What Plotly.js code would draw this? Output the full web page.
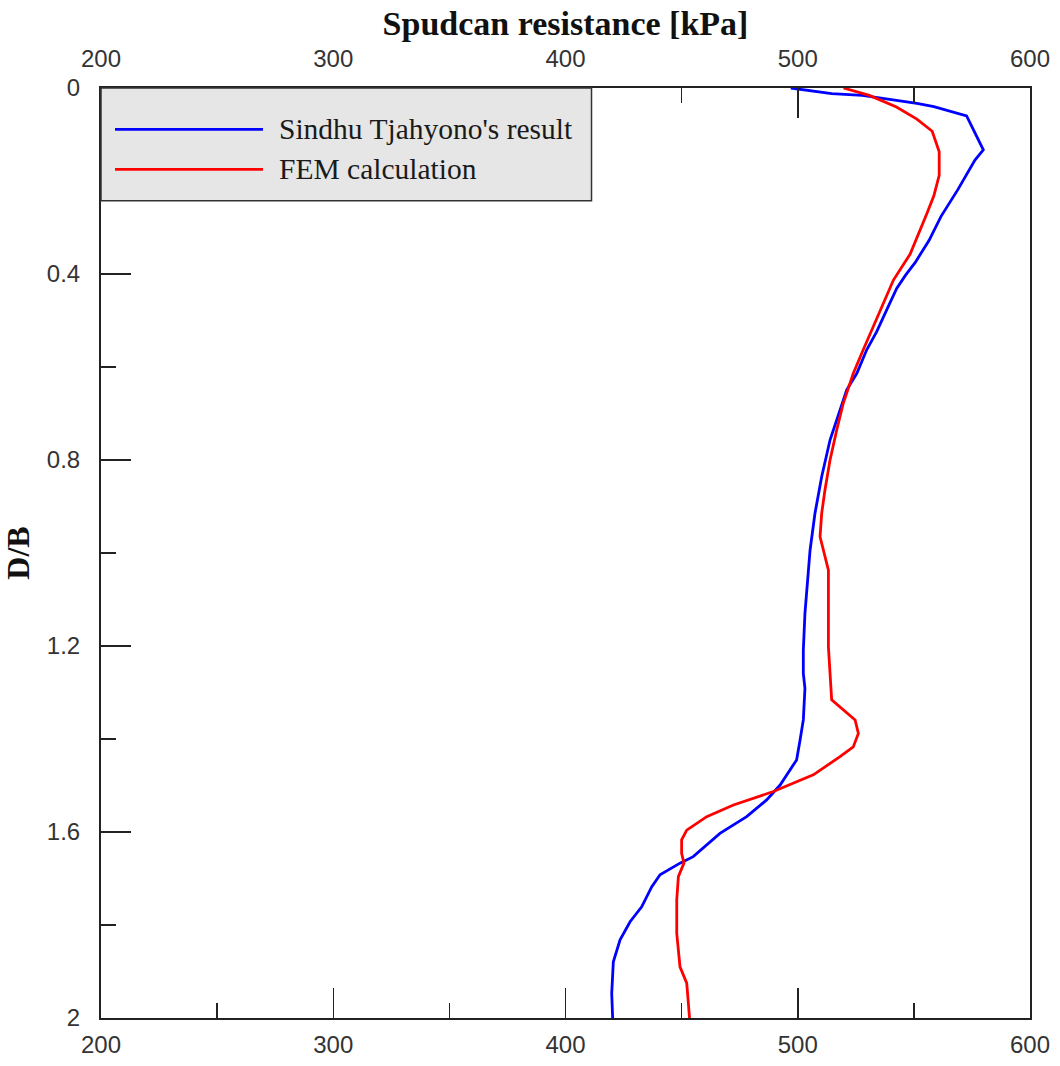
<!DOCTYPE html>
<html>
<head>
<meta charset="utf-8">
<script src="https://cdn.plot.ly/plotly-3.0.1.min.js"></script>
<style>
  html, body { margin: 0; padding: 0; background: #ffffff; }
  #chart { width: 1060px; height: 1066px; }
</style>
</head>
<body>
<div id="chart"></div>
<script>
// ---- Data ----
const seriesNames = ["Sindhu Tjahyono's result", "FEM calculation"];

// Sindhu Tjahyono's result: spudcan resistance [kPa] vs D/B
const tjahyonoResistance = [497.0, 514.6, 527.8, 551.3, 558.6, 572.7, 579.9, 576.3, 569.0, 561.7,
  556.5, 550.6, 546.5, 542.6, 538.3, 534.0, 529.7, 525.4, 521.1, 518.2, 513.9, 510.3, 507.4, 505.3,
  504.6, 503.1, 502.4, 502.4, 503.1, 502.4, 501.0, 499.5, 492.4, 486.6, 478.0, 466.5, 455.0, 449.3,
  440.7, 437.1, 432.8, 427.8, 423.5, 420.6, 419.9, 420.3];
const tjahyonoDepth = [0.000, 0.012, 0.016, 0.033, 0.040, 0.060, 0.133, 0.155, 0.218, 0.276,
  0.328, 0.375, 0.402, 0.431, 0.477, 0.524, 0.563, 0.614, 0.649, 0.692, 0.757, 0.836, 0.915, 0.994,
  1.044, 1.130, 1.209, 1.259, 1.291, 1.359, 1.402, 1.445, 1.499, 1.531, 1.567, 1.603, 1.653, 1.667,
  1.692, 1.718, 1.761, 1.793, 1.832, 1.879, 1.947, 2.000];

// FEM calculation: spudcan resistance [kPa] vs D/B
const femResistance = [519.7, 530.8, 542.5, 551.3, 557.9, 560.9, 560.9, 558.6, 555.7, 552.1,
  548.4, 541.2, 536.8, 532.5, 528.2, 523.9, 519.6, 516.8, 513.9, 511.7, 510.3, 509.6, 511.7,
  513.2, 513.2, 513.2, 514.6, 524.7, 526.1, 523.9, 518.2, 506.7, 489.5, 472.3, 460.8, 452.2, 450.0,
  450.0, 451.0, 448.6, 447.9, 447.9, 449.3, 452.2, 452.9, 453.4];
const femDepth = [0.000, 0.016, 0.041, 0.067, 0.093, 0.137, 0.188, 0.232, 0.269, 0.313,
  0.357, 0.413, 0.463, 0.513, 0.563, 0.614, 0.678, 0.735, 0.800, 0.865, 0.915, 0.965, 1.008,
  1.037, 1.115, 1.202, 1.316, 1.359, 1.388, 1.417, 1.438, 1.477, 1.513, 1.542, 1.567, 1.596, 1.617,
  1.646, 1.667, 1.696, 1.746, 1.818, 1.890, 1.925, 1.968, 2.000];

const xTickValues = [200, 300, 400, 500, 600];
const yTickValues = [0, 0.4, 0.8, 1.2, 1.6, 2];
const yTickText = ["0", "0.4", "0.8", "1.2", "1.6", "2"];
const seriesColors = ["#0000ff", "#ff0000"];

// ---- Styling ----
const serif = "Liberation Serif, Times New Roman, serif";
const sans = "Liberation Sans, Arial, sans-serif";
const tickFont = {family: sans, size: 24, color: "#333333"};
const axisLine = "#222222";
const lineW = 2.8;

const traces = [
  {
    x: tjahyonoResistance, y: tjahyonoDepth, name: seriesNames[0],
    type: "scatter", mode: "lines", xaxis: "x", yaxis: "y",
    line: {color: seriesColors[0], width: lineW}, showlegend: false
  },
  {
    x: femResistance, y: femDepth, name: seriesNames[1],
    type: "scatter", mode: "lines", xaxis: "x2", yaxis: "y",
    line: {color: seriesColors[1], width: lineW}, showlegend: false
  }
];

const commonX = {
  range: [200, 600], tickvals: xTickValues, ticks: "inside", ticklen: 30, tickwidth: 1.5,
  tickcolor: axisLine, showline: true, linecolor: axisLine, linewidth: 2,
  showgrid: false, zeroline: false, tickfont: tickFont,
  minor: {dtick: 50, tick0: 0, ticks: "inside", ticklen: 15, tickwidth: 1.5, tickcolor: axisLine, showgrid: false}
};

// Manual legend (long line samples as in the reference)
const legX0 = 0.0, legX1 = 0.528, legY0 = 0.8788, legY1 = 1.0;
const rowY = [0.9556, 0.9126];
const lineX0 = 0.0151, lineX1 = 0.1744, textX = 0.1895;

const shapes = [
  {type: "rect", xref: "paper", yref: "paper", x0: legX0, x1: legX1, y0: legY0, y1: legY1,
   fillcolor: "#e6e6e6", line: {color: "#333333", width: 1.5}, layer: "above"}
];
const annotations = [];
seriesNames.forEach((n, i) => {
  shapes.push({type: "line", xref: "paper", yref: "paper", x0: lineX0, x1: lineX1, y0: rowY[i], y1: rowY[i],
    line: {color: seriesColors[i], width: lineW}, layer: "above"});
  annotations.push({xref: "paper", yref: "paper", x: textX, y: rowY[i], xanchor: "left", yanchor: "middle",
    text: n, showarrow: false, font: {family: serif, size: 29.5, color: "#1a1a1a"}});
});

const layout = {
  width: 1060, height: 1066,
  margin: {l: 101, r: 30, t: 88, b: 48},
  paper_bgcolor: "#ffffff", plot_bgcolor: "#ffffff",
  showlegend: false,
  xaxis: Object.assign({}, commonX, {side: "bottom", anchor: "y", ticklabelstandoff: 4}),
  xaxis2: Object.assign({}, commonX, {
    side: "top", overlaying: "x", matches: "x", anchor: "y", ticklabelstandoff: 9,
    title: {text: "<b>Spudcan resistance [kPa]</b>", font: {family: serif, size: 34, color: "#111111"}, standoff: 0}
  }),
  yaxis: {
    range: [2, 0], tickvals: yTickValues, ticktext: yTickText,
    ticks: "inside", ticklen: 30, tickwidth: 1.5, tickcolor: axisLine,
    showline: true, linecolor: axisLine, linewidth: 2, mirror: true,
    showgrid: false, zeroline: false, tickfont: tickFont, ticklabelstandoff: 14,
    minor: {dtick: 0.2, tick0: 0, ticks: "inside", ticklen: 15, tickwidth: 1.5, tickcolor: axisLine, showgrid: false},
    title: {text: "<b>D/B</b>", font: {family: serif, size: 32, color: "#111111"}, standoff: 10}
  },
  shapes: shapes,
  annotations: annotations
};

Plotly.newPlot("chart", traces, layout, {displayModeBar: false, staticPlot: true});
</script>
</body>
</html>
